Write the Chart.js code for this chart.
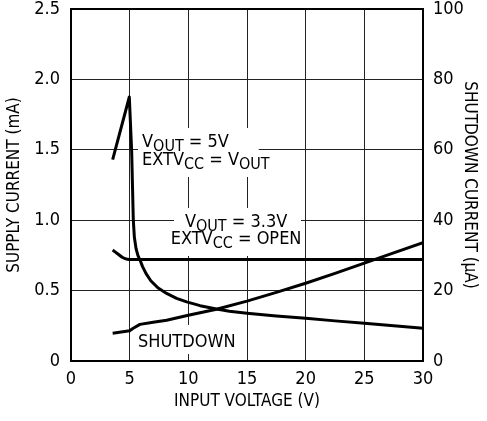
<!DOCTYPE html>
<html>
<head>
<meta charset="utf-8">
<script src="https://cdn.jsdelivr.net/npm/chart.js@4"></script>
<style>
  html, body { margin: 0; padding: 0; background: #fff; }
  #wrap { width: 487px; height: 421px; }
</style>
</head>
<body>
<div id="wrap"><canvas id="chart"></canvas></div>
<script>
// VOUT = 5V, EXTVCC = VOUT  (input V, supply mA)
const vin5 = [3.55, 4.97, 5.17, 5.31, 5.4, 5.54, 5.7, 5.88, 6.1, 6.4, 6.8, 7.4, 8.15, 9.0, 9.86, 11.0, 12.4, 13.5, 15.0, 17.5, 20.0, 22.5, 25.0, 27.5, 30.0];
const supply5 = [1.43, 1.875, 1.49, 1.0, 0.88, 0.8, 0.75, 0.717, 0.67, 0.62, 0.57, 0.52, 0.48, 0.445, 0.42, 0.393, 0.369, 0.353, 0.339, 0.32, 0.303, 0.285, 0.268, 0.25, 0.232];

// VOUT = 3.3V, EXTVCC = OPEN (input V, supply mA)
const vin33 = [3.55, 4.0, 4.4, 4.8, 5.2, 10.0, 20.0, 30.0];
const supply33 = [0.788, 0.76, 0.735, 0.722, 0.72, 0.72, 0.72, 0.72];

// shutdown (input V, uA)
const vinShdn = [3.55, 5.0, 5.3, 5.88, 7.0, 8.15, 10.0, 12.4, 15.0, 17.5, 20.0, 22.5, 25.0, 27.5, 30.0];
const shdnCurrent = [7.9, 8.6, 9.3, 10.4, 11.0, 11.6, 13.0, 14.7, 17.0, 19.5, 22.1, 24.9, 27.8, 30.7, 33.6];

const xTicks = [0, 5, 10, 15, 20, 25, 30];
const leftTicks = ['0', '0.5', '1.0', '1.5', '2.0', '2.5'];
const rightTicks = ['0', '20', '40', '60', '80', '100'];

const FONT = "'Liberation Sans Narrow', 'DejaVu Sans Condensed', 'Liberation Sans', sans-serif";

const toPoints = (xs, ys) => xs.map((x, i) => ({ x: x, y: ys[i] }));

// label boxes (data units of x / left y) that blank the grid behind the notes
const noteBoxes = [
  { x0: 5.71, x1: 16.0, y0: 1.655, y1: 1.307 },
  { x0: 8.78, x1: 19.6, y0: 1.087, y1: 0.746 },
  { x0: 5.28, x1: 14.06, y0: 0.256, y1: 0.05 },
];

// notes: pieces of [text, isSubscript]
const notes = [
  { x: 6.05, y: 1.52, align: 'left', parts: [['V', 0], ['OUT', 1], [' = 5V', 0]] },
  { x: 6.05, y: 1.392, align: 'left', parts: [['EXTV', 0], ['CC', 1], [' = V', 0], ['OUT', 1]] },
  { x: 14.07, y: 0.952, align: 'center', parts: [['V', 0], ['OUT', 1], [' = 3.3V', 0]] },
  { x: 14.07, y: 0.831, align: 'center', parts: [['EXTV', 0], ['CC', 1], [' = OPEN', 0]] },
  { x: 5.71, y: 0.099, align: 'left', parts: [['SHUTDOWN', 0]] },
];

const notesPlugin = {
  id: 'notes',
  beforeDatasetsDraw(chart) {
    const { ctx, scales } = chart;
    ctx.save();
    ctx.fillStyle = '#fff';
    noteBoxes.forEach(b => {
      const x0 = scales.x.getPixelForValue(b.x0), x1 = scales.x.getPixelForValue(b.x1);
      const y0 = scales.y.getPixelForValue(b.y0), y1 = scales.y.getPixelForValue(b.y1);
      ctx.fillRect(x0, y0, x1 - x0, y1 - y0);
    });
    ctx.restore();
  },
  afterDatasetsDraw(chart) {
    const { ctx, scales, chartArea } = chart;
    ctx.save();
    // frame
    ctx.strokeStyle = '#000';
    ctx.lineWidth = 2;
    ctx.strokeRect(chartArea.left, chartArea.top, chartArea.right - chartArea.left, chartArea.bottom - chartArea.top);
    // notes
    ctx.fillStyle = '#000';
    ctx.textBaseline = 'alphabetic';
    ctx.textAlign = 'left';
    const mainFont = '18px ' + FONT, subFont = '16px ' + FONT;
    notes.forEach(n => {
      let w = 0;
      n.parts.forEach(p => { ctx.font = p[1] ? subFont : mainFont; w += ctx.measureText(p[0]).width; });
      let x = scales.x.getPixelForValue(n.x);
      if (n.align === 'center') x -= w / 2;
      const y = scales.y.getPixelForValue(n.y);
      n.parts.forEach(p => {
        ctx.font = p[1] ? subFont : mainFont;
        ctx.fillText(p[0], x, y + (p[1] ? 4 : 0));
        x += ctx.measureText(p[0]).width;
      });
    });
    ctx.restore();
  }
};

const lineStyle = {
  borderColor: '#000',
  borderWidth: 3,
  pointRadius: 0,
  fill: false,
  tension: 0,
  borderJoinStyle: 'round',
};

new Chart(document.getElementById('chart'), {
  type: 'line',
  data: {
    datasets: [
      Object.assign({ label: 'VOUT = 5V', data: toPoints(vin5, supply5), yAxisID: 'y' }, lineStyle),
      Object.assign({ label: 'VOUT = 3.3V', data: toPoints(vin33, supply33), yAxisID: 'y', cubicInterpolationMode: 'monotone' }, lineStyle),
      Object.assign({ label: 'SHUTDOWN', data: toPoints(vinShdn, shdnCurrent), yAxisID: 'y2' }, lineStyle),
    ],
  },
  options: {
    responsive: true,
    maintainAspectRatio: false,
    animation: false,
    layout: { padding: { top: 9, right: 0, left: 0, bottom: 0 } },
    plugins: { legend: { display: false }, tooltip: { enabled: false } },
    scales: {
      x: {
        type: 'linear',
        min: 0, max: 30,
        afterBuildTicks: s => { s.ticks = xTicks.map(v => ({ value: v })); },
        afterFit: s => { s.height = 60; s.paddingLeft = 0; s.paddingRight = 0; },
        grid: { color: '#222', lineWidth: 1, drawTicks: false },
        border: { color: '#000', width: 2 },
        ticks: { color: '#000', font: { family: FONT, size: 18 }, padding: 8, maxRotation: 0 },
        title: { display: true, text: 'INPUT VOLTAGE (V)', color: '#000', font: { family: FONT, size: 17 }, padding: { top: 4, bottom: 9 } },
      },
      y: {
        position: 'left',
        min: 0, max: 2.5,
        afterBuildTicks: s => { s.ticks = leftTicks.map(t => ({ value: parseFloat(t) })); },
        afterFit: s => { s.width = 71; s.paddingTop = 0; s.paddingBottom = 0; },
        grid: { color: '#222', lineWidth: 1, drawTicks: false },
        border: { color: '#000', width: 2 },
        ticks: { color: '#000', font: { family: FONT, size: 18 }, padding: 11,
          callback: (v, i) => leftTicks[i] },
        title: { display: true, text: 'SUPPLY CURRENT (mA)', color: '#000', font: { family: FONT, size: 17 }, padding: { top: 4, bottom: 0 } },
      },
      y2: {
        position: 'right',
        min: 0, max: 100,
        afterBuildTicks: s => { s.ticks = rightTicks.map(t => ({ value: parseFloat(t) })); },
        afterFit: s => { s.width = 64; s.paddingTop = 0; s.paddingBottom = 0; },
        grid: { display: false, drawTicks: false },
        border: { color: '#000', width: 2 },
        ticks: { color: '#000', font: { family: FONT, size: 18 }, padding: 10,
          callback: (v, i) => rightTicks[i] },
        title: { display: true, text: 'SHUTDOWN CURRENT (\u00b5A)', color: '#000', font: { family: FONT, size: 17 }, padding: { top: 7, bottom: 0 } },
      },
    },
  },
  plugins: [notesPlugin],
});
</script>
</body>
</html>
